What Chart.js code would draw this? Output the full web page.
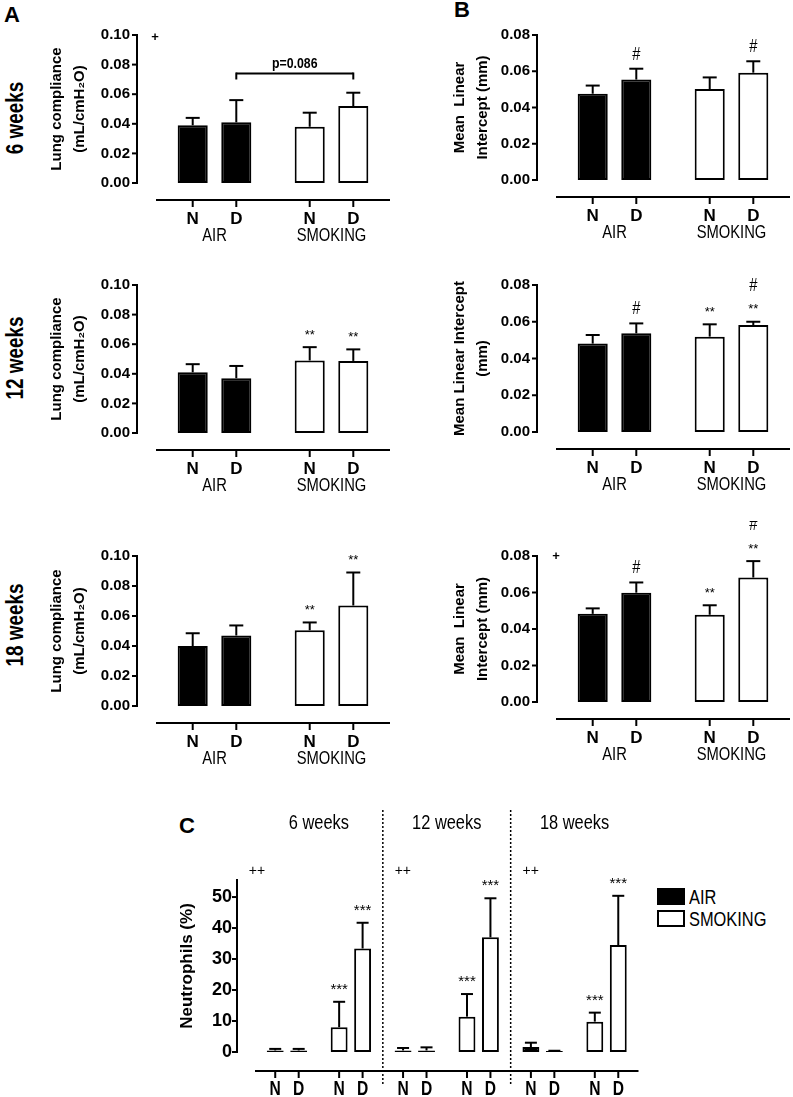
<!DOCTYPE html>
<html>
<head>
<meta charset="utf-8">
<title>Lung compliance, mean linear intercept and neutrophils</title>
<script src="https://cdn.jsdelivr.net/npm/chart.js@4.4.1/dist/chart.umd.min.js"></script>
<style>
  body { margin: 0; background: #fff; }
  #page { position: relative; width: 793px; height: 1097px; overflow: hidden; font-family: 'Liberation Sans', Arial, sans-serif; color: #000; }
  #page canvas { position: absolute; }
  .letter { position: absolute; font-weight: bold; font-size: 22px; line-height: 1; }
  .row { position: absolute; font-weight: bold; font-size: 23px; line-height: 1; white-space: nowrap; transform: translate(-50%, -50%) rotate(-90deg) scaleX(0.82); }
  .key { position: absolute; width: 28px; height: 17px; box-sizing: border-box; border: 2px solid #000; }
  .keytxt { position: absolute; font-size: 20px; line-height: 1; transform: scaleX(0.82); transform-origin: left center; }
</style>
</head>
<body>
<div id="page">
  <div class="letter" style="left:4px;top:4px">A</div>
  <div class="letter" style="left:454px;top:-1px">B</div>
  <div class="letter" style="left:179px;top:815px">C</div>
  <div class="row" style="left:15px;top:118px">6 weeks</div>
  <div class="row" style="left:15px;top:358px">12 weeks</div>
  <div class="row" style="left:15px;top:625px">18 weeks</div>
  <div class="key" style="left:657px;top:888px;background:#000"></div>
  <div class="key" style="left:657px;top:910px;background:#fff"></div>
  <div class="keytxt" style="left:689px;top:887px">AIR</div>
  <div class="keytxt" style="left:689px;top:909px">SMOKING</div>
</div>
<script>
// order inside every value array: AIR-N, AIR-D, SMOKING-N, SMOKING-D
const groups = ['AIR', 'SMOKING'];
const diets = ['N', 'D'];
const weeks = ['6 weeks', '12 weeks', '18 weeks'];

// lung compliance (mL/cmH2O), mean and SD
const compl6 = [0.039, 0.041, 0.038, 0.052];
const compl6Sd = [0.005, 0.015, 0.0095, 0.009];
const compl12 = [0.041, 0.037, 0.049, 0.0487];
const compl12Sd = [0.0055, 0.0083, 0.009, 0.0078];
const compl18 = [0.040, 0.047, 0.0505, 0.067];
const compl18Sd = [0.0085, 0.0067, 0.0052, 0.022];

// mean linear intercept (mm)
const mli6 = [0.0476, 0.0554, 0.0502, 0.0592];
const mli6Sd = [0.0045, 0.006, 0.0064, 0.0063];
const mli12 = [0.0481, 0.0537, 0.0519, 0.0582];
const mli12Sd = [0.0047, 0.0054, 0.0067, 0.0018];
const mli18 = [0.0483, 0.0599, 0.0478, 0.0682];
const mli18Sd = [0.003, 0.0056, 0.0052, 0.009];

// neutrophils in BAL (%)
const neutro6 = [0.5, 0.5, 8.0, 33.4];
const neutro6Sd = [0.5, 0.5, 8.2, 8.3];
const neutro12 = [0.5, 0.5, 11.4, 37.0];
const neutro12Sd = [0.8, 1.0, 7.3, 12.6];
const neutro18 = [1.6, 0.3, 9.8, 34.5];
const neutro18Sd = [1.4, 0.1, 2.9, 15.9];

const complTicks = [0, 0.02, 0.04, 0.06, 0.08, 0.10];
const mliTicks = [0, 0.02, 0.04, 0.06, 0.08];
const neutroTicks = [0, 10, 20, 30, 40, 50];

// significance marks above each bar (top line first)
const complMarks12 = [null, null, '**', '**'];
const complMarks18 = [null, null, '**', '**'];
const mliMarks6 = [null, '#', null, '#'];
const mliMarks12 = [null, '#', '**', ['#', '**']];
const mliMarks18 = [null, '#', '**', ['#', '**']];
const neutroMarks = [null, null, '***', '***'];

const complTitle = ['Lung compliance', '(mL/cmH\u2082O)'];
const mliTitleA = ['Mean  Linear', 'Intercept (mm)'];
const mliTitleB = ['Mean Linear Intercept', '(mm)'];

const SANS = "'Liberation Sans', Arial, sans-serif";

// text squeezed horizontally, like the condensed face of the original
function say(ctx, s, x, y, font, sx) {
  ctx.save();
  ctx.font = font;
  ctx.translate(x, y);
  ctx.scale(sx || 1, 1);
  ctx.fillText(s, 0, 0);
  ctx.restore();
}

function decorate(chart, p) {
  const ctx = chart.ctx, area = chart.chartArea, ys = chart.scales.y, xs = chart.scales.x;
  const seg = (x1, y1, x2, y2) => { ctx.beginPath(); ctx.moveTo(x1, y1); ctx.lineTo(x2, y2); ctx.stroke(); };
  ctx.save();
  ctx.strokeStyle = '#000';
  ctx.fillStyle = '#000';
  ctx.lineWidth = 2;
  ctx.textAlign = 'center';
  ctx.textBaseline = 'middle';

  // y axis, detached from the x axis
  const ax = area.left - p.yGap;
  seg(ax, area.top - 1, ax, area.bottom + 1);
  ys.ticks.forEach(t => {
    const py = ys.getPixelForValue(t.value);
    seg(ax - 5, py, ax + 1, py);
  });
  // x axis
  const bx = area.bottom + p.xGap;
  seg(area.left, bx, area.right, bx);

  const errTop = [];
  chart.data.datasets.forEach((ds, di) => {
    errTop[di] = [];
    chart.getDatasetMeta(di).data.forEach((bar, j) => {
      const top = ys.getPixelForValue(ds.data[j] + ds.sd[j]);
      errTop[di][j] = top;
      seg(bar.x, bar.y, bar.x, top);
      seg(bar.x - p.cap / 2, top, bar.x + p.cap / 2, top);
      seg(bar.x, bx, bar.x, bx + 7);
      say(ctx, diets[di], bar.x, area.bottom + p.ndY, p.ndFont, p.ndScale);
    });
  });

  if (p.groupY) {
    chart.data.labels.forEach((l, i) => say(ctx, l, xs.getPixelForValue(i), area.bottom + p.groupY, '18px ' + SANS, 0.82));
  }

  p.blocks.forEach((b, bi) => {
    if (!b.marks) return;
    b.marks.forEach((m, k) => {
      if (!m) return;
      const di = k % 2, j = bi * 2 + Math.floor(k / 2);
      const x = chart.getDatasetMeta(di).data[j].x;
      const lines = Array.isArray(m) ? m.slice().reverse() : [m];
      let y = errTop[di][j];
      lines.forEach((s, n) => {
        const star = s[0] === '*';
        y -= n === 0 ? (star ? 16 : 14) : 20;
        if (star) say(ctx, s, x, y + 4, p.starFont);
        else say(ctx, s, x, y, '18px ' + SANS, 0.82);
      });
    });
  });

  if (p.extra) p.extra(chart, ctx, seg);
  ctx.restore();
}

function makePanel(p) {
  const cv = document.createElement('canvas');
  cv.width = p.w;
  cv.height = p.h;
  cv.style.left = p.left + 'px';
  cv.style.top = p.top + 'px';
  cv.style.width = p.w + 'px';
  cv.style.height = p.h + 'px';
  document.getElementById('page').appendChild(cv);

  const colors = p.labels.map((l, i) => i % 2 === 0 ? '#000' : '#fff');
  const pick = (arr, k) => arr.flatMap(b => [b[k], b[k + 2]]);
  const means = p.blocks.map(b => b.mean), sds = p.blocks.map(b => b.sd);
  const bar = {
    backgroundColor: colors, borderColor: '#000', borderWidth: 2, borderSkipped: false,
    categoryPercentage: p.catPct, barPercentage: p.barPct
  };

  return new Chart(cv, {
    type: 'bar',
    data: {
      labels: p.labels,
      datasets: [
        Object.assign({ label: diets[0], data: pick(means, 0), sd: pick(sds, 0) }, bar),
        Object.assign({ label: diets[1], data: pick(means, 1), sd: pick(sds, 1) }, bar)
      ]
    },
    options: {
      responsive: false,
      animation: false,
      events: [],
      layout: { padding: { left: 0, top: p.area.top, right: p.w - p.area.right, bottom: p.h - p.area.bottom } },
      plugins: { legend: { display: false }, tooltip: { enabled: false } },
      scales: {
        x: { display: false },
        y: {
          min: 0,
          max: p.yMax,
          afterBuildTicks: s => { s.ticks = p.yTicks.map(v => ({ value: v })); },
          afterFit: s => { s.width = p.area.left; },
          border: { display: false },
          grid: { display: false, drawTicks: false },
          ticks: {
            padding: p.tickPad,
            color: '#000',
            font: { family: SANS, weight: 'bold', size: p.tickSize },
            callback: v => p.fmt(v)
          },
          title: {
            display: true,
            text: p.title,
            color: '#000',
            font: { family: SANS, weight: 'bold', size: p.titleSize, lineHeight: p.titleLine },
            padding: { top: p.titlePad, bottom: 0 }
          }
        }
      }
    },
    plugins: [{ id: 'deco', afterDatasetsDraw: c => decorate(c, p) }]
  });
}

const small = {
  w: 393, h: 250, labels: groups, catPct: 0.745, barPct: 0.69,
  yGap: 19, xGap: 17, cap: 14, ndY: 36, groupY: 53,
  ndFont: 'bold 17px ' + SANS, ndScale: 1, starFont: '13px ' + SANS,
  tickPad: 26, tickSize: 15, titleSize: 15, titleLine: 1.55, titlePad: 45,
  fmt: v => v.toFixed(2)
};

function plus(x, y, ctx) {
  say(ctx, '+', x, y, 'bold 13px ' + SANS);
}

// A: lung compliance
makePanel(Object.assign({}, small, {
  left: 0, top: 0, area: { left: 156, right: 390, top: 33, bottom: 183 },
  yMax: 0.10, yTicks: complTicks, title: complTitle,
  blocks: [{ mean: compl6, sd: compl6Sd }],
  extra: (chart, ctx, seg) => {
    const a = chart.getDatasetMeta(1).data[0].x, b = chart.getDatasetMeta(1).data[1].x;
    const y = chart.scales.y.getPixelForValue(0.074);
    seg(a, y, b, y);
    seg(a, y - 1, a, y + 6);
    seg(b, y - 1, b, y + 6);
    say(ctx, 'p=0.086', (a + b) / 2, y - 10, 'bold 15px ' + SANS, 0.82);
    plus(chart.chartArea.left - 1, chart.chartArea.top + 2, ctx);
  }
}));
makePanel(Object.assign({}, small, {
  left: 0, top: 250, area: { left: 156, right: 390, top: 33, bottom: 183 },
  yMax: 0.10, yTicks: complTicks, title: complTitle,
  blocks: [{ mean: compl12, sd: compl12Sd, marks: complMarks12 }]
}));
makePanel(Object.assign({}, small, {
  left: 0, top: 521, area: { left: 156, right: 390, top: 33, bottom: 185 },
  yMax: 0.10, yTicks: complTicks, title: complTitle,
  blocks: [{ mean: compl18, sd: compl18Sd, marks: complMarks18 }]
}));

// B: mean linear intercept
makePanel(Object.assign({}, small, {
  left: 400, top: 0, area: { left: 156, right: 390, top: 27, bottom: 180 }, titlePad: 48,
  yMax: 0.08, yTicks: mliTicks, title: mliTitleA,
  blocks: [{ mean: mli6, sd: mli6Sd, marks: mliMarks6 }]
}));
makePanel(Object.assign({}, small, {
  left: 400, top: 250, area: { left: 156, right: 390, top: 29, bottom: 182 }, titlePad: 48,
  yMax: 0.08, yTicks: mliTicks, title: mliTitleB,
  blocks: [{ mean: mli12, sd: mli12Sd, marks: mliMarks12 }]
}));
makePanel(Object.assign({}, small, {
  left: 400, top: 521, area: { left: 156, right: 390, top: 27, bottom: 181 }, titlePad: 48,
  yMax: 0.08, yTicks: mliTicks, title: mliTitleA,
  blocks: [{ mean: mli18, sd: mli18Sd, marks: mliMarks18 }],
  extra: (chart, ctx) => plus(chart.chartArea.left, chart.chartArea.top, ctx)
}));

// C: neutrophils
makePanel({
  left: 150, top: 790, w: 520, h: 307,
  area: { left: 105, right: 488.5, top: 90, bottom: 262 },
  labels: weeks.flatMap(w => groups.map(g => w + ' ' + g)),
  catPct: 0.734, barPct: 0.72,
  yGap: 18, xGap: 19, cap: 12, ndY: 37, groupY: 0,
  ndFont: 'bold 20px ' + SANS, ndScale: 0.78, starFont: '15px ' + SANS,
  tickPad: 23, tickSize: 18, titleSize: 17, titleLine: 1.2, titlePad: 27,
  yMax: 55.5, yTicks: neutroTicks, title: 'Neutrophils (%)', fmt: v => String(v),
  blocks: [
    { mean: neutro6, sd: neutro6Sd, marks: neutroMarks },
    { mean: neutro12, sd: neutro12Sd, marks: neutroMarks },
    { mean: neutro18, sd: neutro18Sd, marks: neutroMarks }
  ],
  extra: (chart, ctx, seg) => {
    const xs = chart.scales.x, area = chart.chartArea;
    const px = i => xs.getPixelForValue(i);
    const dividers = [(px(1) + px(2)) / 2, (px(3) + px(4)) / 2];
    ctx.save();
    ctx.lineWidth = 1.5;
    ctx.setLineDash([2, 2]);
    dividers.forEach(x => seg(x, area.top - 70, x, area.bottom + 33));
    ctx.restore();
    weeks.forEach((w, i) => say(ctx, w, (px(2 * i) + px(2 * i + 1)) / 2, area.top - 57, '20px ' + SANS, 0.82));
    [area.left - 18].concat(dividers).forEach(x => say(ctx, '++', x + 20, area.top - 9, '14px ' + SANS));
  }
});
</script>
</body>
</html>
